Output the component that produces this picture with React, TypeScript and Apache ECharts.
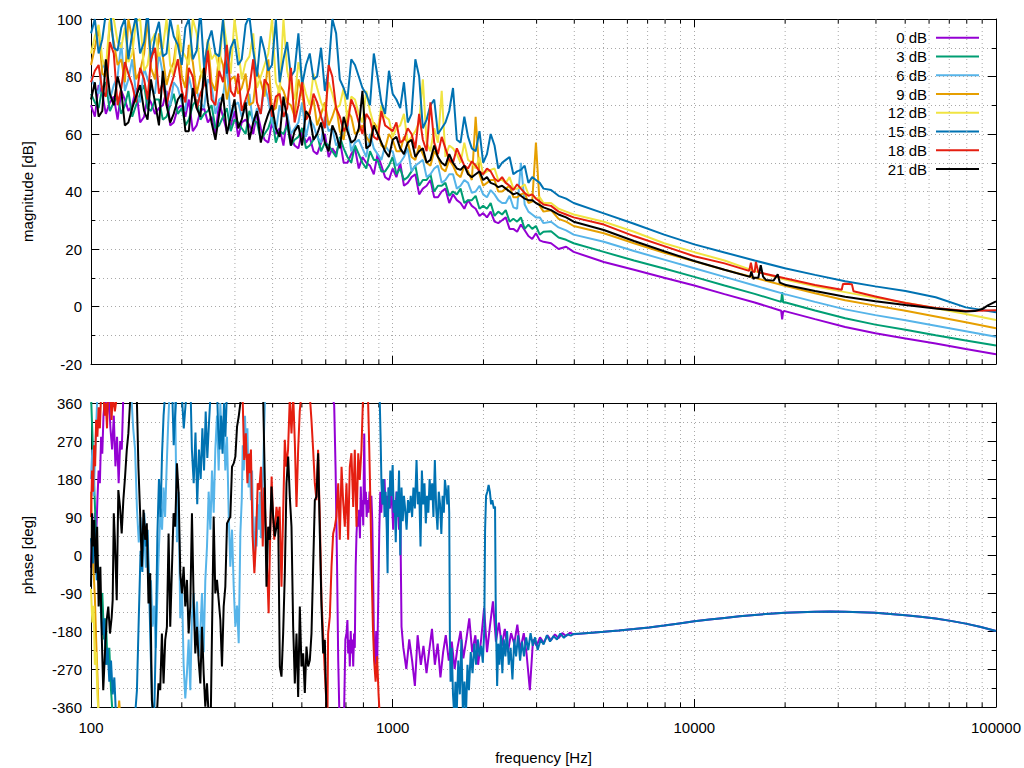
import React, { useEffect, useRef } from "react";
import * as echarts from "echarts";

// ---------- frequency grids (Hz) for the magnitude curves ----------
const FREQ = [100, 106, 112, 119, 126, 133, 141, 150, 158, 168, 178, 188, 200, 211, 224, 237, 251, 266, 282, 299,
  316, 335, 355, 376, 398, 422, 447, 473, 501, 531, 562, 596, 631, 668, 708, 750, 794, 841, 891, 944,
  1000, 1059, 1122, 1189, 1259, 1334, 1413, 1496, 1585, 1679, 1778, 1884, 1995, 2113, 2239, 2371, 2512, 2661, 2818, 2985,
  3162, 3350, 3548, 3758, 3981, 5012, 6310, 7943, 10000, 12589, 15849, 19953, 25119, 31623, 39811, 50119, 63096, 79433, 100000];
const FREQ_MID = [103, 109, 115.5, 122.5, 129.5, 137, 145.5, 154, 163, 173, 183, 194, 205.5, 217.5, 230.5, 244,
  258.5, 274, 290.5, 307.5, 325.5, 345, 365.5, 387, 410, 434.5, 460, 487, 516, 546.5, 579, 613.5, 649.5, 688,
  729, 772, 817.5, 866, 917.5, 972, 1029, 1090, 1155, 1224, 1296, 1373, 1454, 1540, 1632, 1728, 1830, 1940,
  2054, 2176, 2305, 2441, 2586, 2739, 2901, 3073];

// ---------- magnitude [dB] on FREQ ----------
const MAG_0DB = [70, 77, 67, 73, 75, 68, 76, 66, 71, 69, 75, 64, 70, 72, 63, 69, 66, 71, 61, 68,
  64, 63, 68, 58, 64, 62, 66, 56, 61, 59, 53, 60, 55, 58, 50, 55, 52, 49, 53, 45,
  48, 50, 43, 46, 41, 44, 38, 41, 39, 36, 37, 34, 32.5, 33, 29, 31, 27, 28.5, 24.5, 25.5,
  22.5, 22, 20, 20.8, 19, 15.5, 12.8, 10, 7.3, 4.3, 1.4, -1.6, -4.4, -7.1, -9.3, -11.1, -12.9, -14.8, -16.6];
const MAG_3DB = [74, 69, 78, 71, 67, 75, 70, 77, 68, 72, 66, 74, 69, 65, 72, 67, 70, 63, 69, 65,
  62, 68, 64, 60, 66, 61, 63, 58, 62, 56, 60, 57, 54, 59, 52, 56, 50, 54, 51, 47,
  52, 48, 45, 49, 44, 46, 42, 43, 40, 41, 37, 38.5, 35, 36, 33, 33.5, 30.5, 31, 28.5, 28,
  26, 26.2, 24, 23.2, 22, 19, 16, 13.2, 10.3, 7.3, 4.4, 1.5, -1.4, -4.1, -6.3, -8.1, -10, -11.8, -13.6];
const MAG_6DB = [80, 74, 85, 77, 92, 79, 74, 83, 76, 88, 73, 78, 71, 80, 75, 69, 77, 72, 84, 70,
  66, 74, 69, 77, 64, 70, 67, 62, 71, 65, 59, 66, 62, 58, 64, 57, 55, 60, 53, 56,
  54, 50, 55, 49, 51, 46, 49, 44, 46, 42, 43, 40, 39, 40.5, 37, 36, 34.5, 50, 33, 31,
  29, 29.5, 27.5, 26.5, 25, 22.5, 19.3, 16.3, 13.3, 10.3, 7.3, 4.3, 1.6, -1, -3, -4.8, -6.7, -8.6, -10.5];
const MAG_9DB = [84, 97, 80, 92, 86, 100, 79, 88, 83, 95, 77, 85, 80, 91, 74, 83, 78, 88, 72, 80,
  76, 70, 82, 73, 68, 77, 71, 66, 74, 68, 63, 71, 66, 61, 68, 60, 63, 57, 62, 55,
  58, 54, 57, 51, 53, 49, 52, 47, 49, 45, 47, 66, 42, 44, 40, 41, 38, 39, 36, 57,
  33, 33.5, 30.5, 29.5, 28, 25.5, 22, 18.7, 15.7, 12.8, 10, 7.2, 4.6, 2.2, 0.3, -1.5, -3.5, -5.5, -7.6];
const MAG_12DB = [88, 98, 83, 100, 90, 85, 99, 82, 92, 87, 100, 80, 89, 84, 95, 78, 86, 82, 91, 100,
  79, 87, 76, 84, 100, 74, 82, 72, 79, 70, 76, 68, 74, 70, 65, 72, 64, 68, 61, 66,
  59, 63, 57, 61, 79, 54, 57, 52, 55, 50, 51, 48, 46, 47.5, 44, 43, 41, 41.5, 39, 37.5,
  36, 36, 34, 33, 32, 29.5, 26, 22, 18.9, 16, 12.3, 9.4, 7, 5, 3, 1.3, -0.6, -2.6, -4.7];
const MAG_15DB = [95, 88, 102, 90, 97, 86, 101, 92, 85, 99, 88, 94, 84, 100, 89, 83, 96, 87, 81, 93,
  86, 101, 80, 89, 84, 78, 92, 82, 77, 88, 80, 75, 100, 79, 72, 84, 76, 70, 80, 67,
  74, 69, 64, 86, 62, 70, 60, 64, 76, 57, 59, 54, 50, 60, 48, 51, 46, 47.5, 43, 44,
  41, 40.5, 38.5, 37.5, 36, 32.4, 28.8, 25, 21.6, 18.8, 16, 13.3, 11, 8.8, 7, 5.4, 3.2, -0.3, -2];
const MAG_18DB = [78, 84, 73, 88, 76, 81, 71, 79, 86, 74, 70, 80, 75, 83, 69, 77, 72, 82, 91, 73,
  68, 76, 71, 79, 66, 74, 69, 64, 78, 67, 71, 62, 80, 66, 63, 69, 60, 65, 58, 63,
  61, 57, 62, 55, 58, 71, 53, 55, 50, 52, 48, 49, 46, 47, 43.5, 43, 40.5, 41, 38.5, 37.5,
  35.5, 35, 33, 32, 31, 28.5, 24.5, 21, 17.5, 15, 12, 9.8, 7.5, 7.9, 3.5, 1.2, -0.5, -1.6, -1.3];
const MAG_21DB = [72, 66, 86, 70, 75, 64, 73, 68, 79, 63, 70, 67, 74, 61, 69, 83, 64, 67, 60, 72,
  65, 58, 68, 63, 70, 59, 65, 61, 56, 66, 60, 57, 63, 55, 61, 58, 75, 56, 60, 54,
  58, 55, 57, 52, 55, 51, 52, 49, 50, 47.5, 46, 46, 44, 43, 41.5, 41, 39, 38.5, 37, 36,
  34.5, 33.5, 32, 31, 29.5, 26.6, 22.8, 19.2, 15.8, 12.8, 10, 7.6, 5.4, 3.4, 1.8, 0.5, -0.7, -1.7, 1.8];

// ---------- magnitude [dB] on FREQ_MID (the noisy low band) ----------
const MID_0DB = [66, 74, 71, 65, 72, 70, 64, 73, 67, 70, 63, 69, 66, 61, 68, 64, 60, 66, 63, 59,
  65, 60, 62, 57, 60, 56, 59, 55, 57, 54, 57, 52, 53, 50, 53, 48, 50, 46, 49, 44,
  45, 42, 45, 39, 42, 38, 40, 36, 37, 34, 35, 31.5, 31, 29.5, 30, 27, 26, 26.5, 23.5, 23];
const MID_3DB = [71, 76, 68, 73, 70, 66, 74, 69, 72, 65, 70, 67, 63, 70, 65, 68, 62, 66, 61, 64,
  60, 65, 58, 62, 57, 60, 56, 59, 55, 58, 54, 56, 52, 55, 50, 53, 48, 51, 47, 49,
  46, 44, 47, 42, 44, 40, 42, 38.5, 39, 36, 37, 34, 34, 31.5, 32, 29.5, 29.5, 27, 27, 25];
const MID_6DB = [76, 83, 72, 80, 75, 86, 71, 79, 74, 81, 70, 76, 68, 74, 71, 79, 67, 73, 65, 71,
  69, 63, 67, 72, 61, 66, 60, 64, 59, 63, 57, 61, 56, 60, 54, 58, 52, 55, 51, 54,
  49, 52, 47, 50, 45, 48, 43, 46, 41, 44, 39.5, 42, 38, 39, 36, 38.5, 34, 35.5, 32, 31];
const MID_9DB = [90, 81, 99, 84, 78, 93, 82, 100, 79, 87, 82, 96, 76, 85, 80, 92, 75, 84, 79, 74,
  81, 71, 78, 86, 69, 75, 70, 79, 65, 72, 67, 63, 70, 58, 66, 61, 59, 64, 56, 60,
  54, 59, 52, 56, 50, 54, 48, 51, 46, 49, 44, 46, 43, 44, 40, 42, 38, 39.5, 36.5, 35];
const MID_12DB = [94, 86, 100, 92, 97, 88, 100, 84, 95, 90, 84, 98, 87, 100, 82, 93, 88, 100, 81, 90,
  85, 95, 80, 88, 78, 100, 76, 85, 74, 81, 71, 78, 69, 76, 73, 67, 75, 63, 70, 65,
  62, 67, 59, 64, 57, 62, 75, 56, 53, 57, 50, 52, 47, 48, 44, 45, 41, 42.5, 39, 38];
const MID_15DB = [100, 93, 104, 89, 100, 95, 88, 103, 94, 87, 100, 91, 97, 86, 103, 92, 88, 100, 90, 84,
  98, 89, 94, 82, 100, 86, 80, 95, 84, 79, 90, 83, 95, 76, 86, 80, 74, 88, 71, 82,
  72, 78, 67, 80, 65, 72, 62, 68, 58, 66, 55, 61, 53, 56, 50, 52, 47, 49, 45, 43];
const MID_18DB = [82, 75, 92, 70, 85, 77, 83, 72, 90, 78, 76, 86, 71, 80, 74, 89, 70, 78, 75, 81,
  72, 86, 67, 77, 73, 66, 83, 70, 65, 74, 66, 84, 69, 61, 72, 64, 67, 59, 68, 62,
  64, 58, 60, 67, 54, 57, 59, 51, 55, 49, 50.5, 47, 48, 44.5, 45, 42, 42.5, 39.5, 39, 36.5];
const MID_21DB = [78, 68, 74, 80, 63, 69, 77, 65, 71, 82, 64, 72, 61, 76, 66, 71, 58, 74, 66, 62,
  71, 64, 57, 67, 62, 73, 56, 63, 68, 58, 64, 54, 60, 66, 57, 62, 55, 63, 57, 52,
  59, 53, 58, 54, 50, 56, 50, 53, 48, 49, 45, 47, 45, 42.5, 42, 40, 39.5, 37.5, 37, 35.3];

// extra magnitude samples (narrow features) as [Hz, dB]
const MAG_EXTRA_0DB = [[19400, -1.5], [19550, -4.5], [19700, -1.7]];
const MAG_EXTRA_3DB = [[19400, 1.6], [19550, 5], [19700, 1.4]];
const MAG_EXTRA_18DB = [[15200, 12.4], [15400, 15.2], [15600, 12.2], [16000, 15.5], [16300, 11.9],
  [30800, 5.8], [31100, 7.8], [33300, 7.7], [33700, 5.3]];
const MAG_EXTRA_21DB = [[15300, 10.3], [15450, 12.2], [15700, 9.6], [16300, 10], [16600, 14.4], [16900, 10.4],
  [17300, 9.2], [18300, 9.0], [18900, 11.2], [19200, 8.3], [85000, -1.6], [90000, -0.9], [94000, 0.4]];

// ---------- phase [deg] as [Hz, deg] ----------
const PH_TAIL = [[4467, -184.5], [5012, -182], [5623, -179], [6310, -175.5], [7079, -171.5], [7943, -167],
  [8913, -162], [10000, -157], [11220, -153], [12589, -149], [14125, -145], [15849, -142], [17783, -139],
  [19953, -137], [22387, -135.5], [25119, -134.5], [28184, -134], [31623, -134.2], [35481, -135.3],
  [39811, -137], [44668, -139.5], [50119, -142.5], [56234, -146], [63096, -150.5], [70795, -156],
  [79433, -162.5], [89125, -170.5], [100000, -180]];

const PH_0DB = [[100, -30], [101, 60], [102, 20], [103, 100], [104, 40], [105, 130], [106, 200], [107, 170],
  [108, 280], [109, 240], [110, 330], [111.5, 380], [113, 330], [114.5, 380], [116, 300], [117.5, 250],
  [119, 330], [120.5, 210], [122, 280], [123.5, 170], [125, 270], [126.5, 250], [128, 380], [630, 380],
  [640, 355], [647, 200], [654, -20], [660, -250], [666, -380], [690, -380], [697, -200], [703, -186],
  [708, -154], [712, -233], [717, -201], [721, -264], [726, -180], [730, -233], [735, -200], [740, -264],
  [745, -186], [749, -220], [754, -28], [759, 51], [764, 91], [769, 67], [774, 107], [779, 40], [784, 162],
  [789, 91], [794, 130], [799, 70], [805, 288], [810, 120], [815, 150], [820, 90], [826, 130], [832, 100],
  [838, 150], [844, 110], [850, 140], [856, 80], [862, -60], [868, -230], [875, -260], [882, -180],
  [889, -250], [896, -100], [903, 60], [910, 150], [917, 100], [925, 170], [933, 120], [940, 180],
  [948, 100], [956, 140], [964, 90], [972, 160], [980, 110], [988, 170], [996, 120], [1004, 60],
  [1012, 130], [1020, 90], [1030, 150], [1040, 110], [1050, 60], [1060, 100], [1070, -170],
  [1085, -220], [1110, -270], [1135, -200], [1160, -250], [1185, -310], [1210, -190], [1240, -260],
  [1265, -215], [1295, -280], [1320, -230], [1350, -175], [1380, -260], [1410, -210], [1440, -290],
  [1470, -230], [1500, -190], [1535, -250], [1570, -205], [1605, -270], [1640, -220], [1680, -180],
  [1715, -245], [1755, -200], [1795, -150], [1835, -230], [1880, -190], [1920, -260], [1965, -200],
  [2010, -125], [2055, -230], [2100, -170], [2150, -110], [2200, -205], [2250, -160], [2300, -215],
  [2355, -175], [2410, -230], [2470, -185], [2530, -210], [2590, -165], [2650, -225], [2720, -185],
  [2780, -235], [2850, -320], [2920, -200], [3000, -215], [3080, -195], [3170, -208], [3260, -190],
  [3350, -202], [3450, -188], [3550, -197], [3650, -185], [3760, -192], [3870, -184], [3981, -188]];

const PH_3DB = [[100, 380], [101.5, 250], [103, 120], [104.5, 0], [106, -60], [107.5, -120], [109, -90],
  [110.5, -200], [112, -150], [113.5, -260], [115, -220], [116.5, -320], [118, -380]];

const PH_6DB = [[100, 180], [101, 250], [102, 140], [103, 220], [104, 300], [105, 380], [136, 380], [138, 300],
  [140, 250], [142, 110], [144, 30], [146, 90], [148, 10], [150, 60], [152, -30], [154, 20], [156, -100],
  [158, -60], [160, -170], [162, -120], [164, -220], [166, -90], [168, 20], [170, 110], [172, 60], [174, 160],
  [176, 90], [178, 200], [180, 300], [182, 380], [190, 380], [192.7, 30], [195, 150], [197.7, -150],
  [200, -60], [202.8, -260], [205.4, -340], [208, -280], [210.7, -200], [213.4, -320], [216, -150],
  [219, -90], [222, -200], [224.6, -110], [227.4, -240], [230.4, -180], [233.3, -90], [236.3, -230],
  [239.3, -60], [242.4, 20], [245.5, 150], [248.7, 60], [251.8, 200], [255.1, 100], [258.3, 250],
  [261.6, 330], [265, 200], [268.4, 360], [271.8, 250], [275.3, 320], [278.8, 200], [282.4, 280],
  [286, 100], [289.7, -28], [293.4, 60], [297.2, -75], [301, -170], [304.9, -120], [308.8, -209],
  [312.7, 51], [316, 130], [318.5, 260], [321, 200], [324, 330], [327, 230], [330, 300], [333, 160],
  [336, 241], [339, 130], [342, 200], [345, 51], [348, -28], [351, 91], [354, 20], [357, 120], [360, 60],
  [363, 150], [366, 40], [369, 110], [372, 200], [375, 300], [378, 380]];

const PH_9DB = [[100, 150], [101, 30], [102, -40], [103, -100], [104, -200], [105, -280], [106, -380],
  [123, -380], [124, -345], [125, -380]];

const PH_12DB = [[100, -80], [101, -160], [102, -120], [103, -260], [104, -230], [105, -330], [106, -380]];

const PH_15DB = [[100, 40], [101.5, -20], [103, 60], [104.5, -60], [106, -30], [107.5, -110], [109, -190],
  [110.5, -150], [112, -260], [113.5, -220], [115, -300], [116.5, -250], [118, -330], [119.5, -290],
  [121, -380], [140, -380], [142, -320], [144, -150], [146, 10], [148, -40], [150, 100], [152, 20],
  [154, 60], [156, -90], [158, -250], [160, -380], [162, -380], [164, -200], [166, 50], [168, 180],
  [170, 90], [172, 240], [174, 330], [176, 380], [186, 380], [188, 260], [190, 330], [192, 380],
  [200, 380], [203, 300], [206, 360], [209, 380], [214, 380], [216, 250], [219, 170], [222, 290],
  [225, 120], [228, 250], [231, 180], [234, 300], [237, 200], [240, 340], [243, 230], [246, 310],
  [249, 380], [262, 380], [264, 300], [267, 250], [270, 330], [273, 240], [276, 360], [279, 280],
  [282, 380], [905, 380], [912, 280], [918, 170], [925, 120], [932, 180], [940, 90], [948, 150],
  [956, 60], [962, -43], [968, 160], [975, 110], [982, 200], [990, 140], [1000, 213], [1008, 100],
  [1016, 130], [1024, 30], [1032, 150], [1040, 90], [1050, 200], [1060, 0], [1070, 160], [1080, 80],
  [1090, 140], [1100, 110], [1112, 60], [1124, 130], [1136, 100], [1148, 140], [1160, 90], [1172, 160],
  [1185, 110], [1200, 225], [1212, 120], [1225, 150], [1237, 20], [1250, 200], [1262, 120], [1275, 170],
  [1288, 75], [1300, 140], [1313, 100], [1326, 180], [1339, 130], [1352, 170], [1365, 90], [1380, 225],
  [1394, 110], [1408, 60], [1422, 150], [1436, 120], [1450, 50], [1464, 140], [1478, 100], [1490, 178],
  [1505, 150], [1518, 120], [1530, 165], [1540, 100], [1548, -200], [1556, -300], [1570, -220],
  [1585, -330], [1600, -380], [1615, -300], [1630, -380], [1650, -250], [1670, -330], [1690, -200],
  [1710, -380], [1730, -300], [1750, -380], [1770, -260], [1790, -320], [1815, -230], [1840, -280],
  [1865, -210], [1890, -260], [1915, -200], [1940, -240], [1965, -215], [1990, -255], [2012, -180],
  [2025, 60], [2040, 140], [2060, 150], [2080, 166], [2100, 150], [2120, 120], [2140, 130], [2165, 110],
  [2185, 115], [2195, -100], [2205, -200], [2220, -310], [2240, -210], [2260, -260], [2285, -190],
  [2310, -280], [2335, -200], [2365, -240], [2395, -180], [2425, -260], [2460, -220], [2495, -295],
  [2530, -200], [2565, -240], [2605, -190], [2645, -250], [2685, -205], [2725, -240], [2770, -195],
  [2815, -225], [2865, -185], [2915, -215], [2965, -195], [3025, -225], [3095, -200], [3165, -212],
  [3245, -190], [3325, -205], [3415, -192], [3505, -200], [3595, -186], [3695, -196], [3795, -188],
  [3895, -191], [3981, -187]];

const PH_18DB = [[100, 90], [100.8, 200], [101.6, 150], [102.4, 260], [103.2, 210], [104, 320], [105, 280],
  [106, 350], [107, 300], [108, 380], [110, 380], [111, 330], [112, 360], [113, 300], [114, 380],
  [116, 380], [117, 320], [118, 380], [120, 340], [122, 380], [318, 380], [322, 225], [326, 288],
  [330, 170], [333, 240], [335, 194], [339, 250], [343, 51], [348, -43], [352, 28], [357, 170], [361, 154],
  [366, 209], [371, 20], [375, 160], [380, 60], [388, -138], [392, 20], [397, 186], [400, 114], [405, 36],
  [412, 114], [417, 83], [422, 114], [428, -75], [433, 83], [439, 273], [444, 209], [450, 249], [456, 370],
  [462, 288], [468, 380], [474, 265], [480, 114], [486, 249], [492, 340], [498, 380], [531, 380],
  [538, 320], [545, 249], [552, 170], [559, 130], [566, 249], [574, 75], [581, -107], [588, -186],
  [596, -280], [604, -359], [608, -380], [611, -186], [619, -146], [627, -28], [635, 51], [643, 67],
  [651, 91], [660, 170], [668, 36], [677, 209], [685, 130], [694, 67], [703, 170], [712, 36], [721, 209],
  [730, 241], [740, 114], [749, 249], [759, 67], [769, 241], [778, 178], [788, 249], [798, 380],
  [828, 380], [836, 260], [844, 120], [852, -40], [860, -170], [868, -250], [878, -300], [888, -240],
  [898, -330], [906, -380]];

const PH_21DB = [[100, -75], [100.8, 99], [101.5, 20], [102.5, 83], [103.6, -43], [104.8, 67], [106, -122],
  [107.4, -28], [108.5, -186], [109.8, -320], [111.2, -233], [112.7, -154], [114.1, -122], [115.6, -186],
  [117.1, -147], [118, -107], [119, 99], [120, 36], [121.7, -107], [123.2, 154], [124.8, 114], [126.4, 51],
  [128, 130], [129.7, 186], [131.4, 249], [133, 288], [134.7, 360], [136, 380], [141.8, 380], [143.6, 209],
  [145.5, 99], [147.4, -28], [149.3, 107], [151.2, 36], [153.1, 75], [155.1, -115], [157.1, -43],
  [159.1, -343], [161.1, -380], [165.3, -380], [167.4, -304], [169.6, -320], [171.8, -186], [174, -304],
  [176.2, -201], [178.5, -170], [180.8, 51], [183.1, -170], [187.8, 99], [190.2, 67], [192.7, 217],
  [195.2, 146], [197.7, -43], [200.2, -91], [202.8, -28], [205.4, -122], [208, -59], [210.7, -186],
  [213.4, -122], [216.1, 99], [218.9, -107], [221.7, -233], [224.6, -170], [227.4, -249], [230.4, -304],
  [233.3, -170], [236.3, -280], [239.3, -359], [242.4, -304], [245.5, -380], [249.5, -380], [251.8, -186],
  [255.1, 91], [258.3, -91], [261.6, -59], [265, -107], [268.4, -154], [271.8, -264], [275.3, -122],
  [278.8, -75], [282.4, 75], [286, 83], [289.7, 91], [293.4, 209], [297.2, 217], [301, 233], [304.9, 304],
  [308.8, 328], [312.7, 360], [315, 380], [372, 380], [377, 170], [379.9, 12], [381.7, -75], [386.6, 67],
  [391.6, 36], [396.6, 162], [401.6, 91], [406.8, 44], [412, 67], [417.3, 91], [422.6, -264], [428, -288],
  [433.5, -186], [439.1, -43], [444.7, 170], [450.4, 233], [456.1, 138], [462, 67], [467.9, -170],
  [473.9, -304], [480, -186], [486.1, -336], [492.3, -122], [498.6, -264], [505, -233], [511.5, -327],
  [518, -217], [524.7, -264], [531.4, -249], [538.2, -186], [545.1, -28], [552.1, 130], [559.1, 138],
  [566.3, 241], [573.5, 51], [580.9, -122], [588.3, -233], [595.9, -201], [603.5, -380]];

// ---------- labels, colours, ticks ----------
const LABELS = ["0 dB", "3 dB", "6 dB", "9 dB", "12 dB", "15 dB", "18 dB", "21 dB"];
const COLORS = ["#9400d3", "#009e73", "#56b4e9", "#e69f00", "#f0e442", "#0072b2", "#e51e10", "#000000"];
const X_MINOR_TICKS = [200, 300, 400, 500, 600, 700, 800, 900, 2000, 3000, 4000, 5000, 6000, 7000, 8000, 9000,
  20000, 30000, 40000, 50000, 60000, 70000, 80000, 90000];
const MAG_RANGE = [-20, 100];
const PHASE_RANGE = [-360, 360];

const MAG_VALUES = [MAG_0DB, MAG_3DB, MAG_6DB, MAG_9DB, MAG_12DB, MAG_15DB, MAG_18DB, MAG_21DB];
const MID_VALUES = [MID_0DB, MID_3DB, MID_6DB, MID_9DB, MID_12DB, MID_15DB, MID_18DB, MID_21DB];
const MAG_EXTRAS = [MAG_EXTRA_0DB, MAG_EXTRA_3DB, [], [], [], [], MAG_EXTRA_18DB, MAG_EXTRA_21DB];
const PHASE_VALUES = [
  PH_0DB.concat(PH_TAIL), PH_3DB, PH_6DB, PH_9DB, PH_12DB, PH_15DB.concat(PH_TAIL), PH_18DB, PH_21DB,
];

const FONT = "'Liberation Sans', Arial, Helvetica, sans-serif";
const GRID_COLOR = "#a8a8a8";
const GRID_LINE = { color: GRID_COLOR, width: 1, type: [1, 3] as any };

function magData(values: number[], mid: number[], extra: number[][]) {
  const pts = FREQ.map((f, i) => [f, values[i]]);
  const midPts = FREQ_MID.map((f, i) => [f, mid[i]]);
  return pts.concat(midPts, extra).sort((a, b) => a[0] - b[0]);
}

function makeXAxes(gridIndex: number, labels: boolean) {
  const common = {
    gridIndex,
    type: "log",
    logBase: 10,
    min: 100,
    max: 100000,
    axisLine: { show: true, onZero: false, lineStyle: { color: "#000", width: 1 } },
    axisTick: { show: true, inside: true, length: 8, lineStyle: { color: "#000" } },
    minorTick: { show: false },
  };
  return [
    {
      ...common,
      position: "bottom",
      axisLabel: {
        show: labels,
        margin: 13,
        color: "#000",
        fontSize: 15,
        fontFamily: FONT,
        showMinLabel: true,
        showMaxLabel: true,
        formatter: (v: number) => String(Math.round(v)),
      },
      splitLine: { show: true, lineStyle: GRID_LINE },
    },
    {
      ...common,
      position: "top",
      axisLabel: { show: false },
      splitLine: { show: false },
    },
  ];
}

function makeYAxes(gridIndex: number, min: number, max: number, interval: number) {
  const common = {
    gridIndex,
    type: "value",
    min,
    max,
    interval,
    axisLine: { show: true, onZero: false, lineStyle: { color: "#000", width: 1 } },
    axisTick: { show: true, inside: true, length: 8, lineStyle: { color: "#000" } },
    minorTick: { show: true, splitNumber: 2, length: 4, lineStyle: { color: "#000" } },
  };
  return [
    {
      ...common,
      position: "left",
      axisLabel: {
        show: true,
        margin: 9,
        color: "#000",
        fontSize: 15,
        fontFamily: FONT,
        showMinLabel: true,
        showMaxLabel: true,
      },
      splitLine: { show: true, lineStyle: GRID_LINE },
      minorSplitLine: { show: true, lineStyle: GRID_LINE },
    },
    {
      ...common,
      position: "right",
      axisLabel: { show: false },
      splitLine: { show: false },
      minorSplitLine: { show: false },
    },
  ];
}

function minorGridSeries(xAxisIndex: number, yAxisIndex: number, range: number[]) {
  return {
    type: "custom",
    xAxisIndex,
    yAxisIndex,
    silent: true,
    z: 1,
    data: X_MINOR_TICKS.map((f) => [f, range[0]]),
    renderItem: (_params: any, api: any) => {
      const f = api.value(0);
      const p0 = api.coord([f, range[0]]);
      const p1 = api.coord([f, range[1]]);
      return {
        type: "group",
        children: [
          {
            type: "line",
            shape: { x1: p0[0], y1: p0[1], x2: p1[0], y2: p1[1] },
            style: { stroke: GRID_COLOR, lineWidth: 1, lineDash: [1, 3] },
          },
          {
            type: "line",
            shape: { x1: p0[0], y1: p0[1], x2: p0[0], y2: p0[1] - 4.5 },
            style: { stroke: "#000", lineWidth: 1 },
          },
          {
            type: "line",
            shape: { x1: p1[0], y1: p1[1], x2: p1[0], y2: p1[1] + 4.5 },
            style: { stroke: "#000", lineWidth: 1 },
          },
        ],
      };
    },
  };
}

function textEl(text: string, x: number, y: number, align: string, rotation = 0) {
  return {
    type: "text",
    x,
    y,
    rotation,
    silent: true,
    style: {
      text,
      fill: "#000",
      font: `15px ${FONT}`,
      fontSize: 15,
      fontFamily: FONT,
      align,
      textAlign: align,
      verticalAlign: "middle",
      textVerticalAlign: "middle",
    },
  };
}

function buildOption() {
  const magSeries = LABELS.map((name, i) => ({
    name,
    type: "line",
    xAxisIndex: 0,
    yAxisIndex: 0,
    data: magData(MAG_VALUES[i], MID_VALUES[i], MAG_EXTRAS[i]),
    showSymbol: false,
    symbol: "none",
    clip: true,
    silent: true,
    z: 2,
    lineStyle: { color: COLORS[i], width: 2 },
    itemStyle: { color: COLORS[i] },
  }));
  const phaseSeries = LABELS.map((name, i) => ({
    name,
    type: "line",
    xAxisIndex: 2,
    yAxisIndex: 2,
    data: PHASE_VALUES[i],
    showSymbol: false,
    symbol: "none",
    clip: true,
    silent: true,
    z: 2,
    lineStyle: { color: COLORS[i], width: 2 },
    itemStyle: { color: COLORS[i] },
  }));

  const legendRowY = [37.7, 56.5, 75.2, 94, 112.7, 131.5, 150.2, 169];
  const legend: any[] = [];
  LABELS.forEach((name, i) => {
    legend.push(textEl(name, 927, legendRowY[i], "right"));
    legend.push({
      type: "line",
      silent: true,
      shape: { x1: 936, y1: legendRowY[i], x2: 979, y2: legendRowY[i] },
      style: { stroke: COLORS[i], lineWidth: 2 },
    });
  });

  return {
    animation: false,
    backgroundColor: "#ffffff",
    textStyle: { fontFamily: FONT },
    grid: [
      { left: 91, top: 19, width: 905, height: 345 },
      { left: 91, top: 403, width: 905, height: 304 },
    ],
    xAxis: [...makeXAxes(0, false), ...makeXAxes(1, true)],
    yAxis: [...makeYAxes(0, MAG_RANGE[0], MAG_RANGE[1], 20), ...makeYAxes(1, PHASE_RANGE[0], PHASE_RANGE[1], 90)],
    series: [
      minorGridSeries(0, 0, MAG_RANGE),
      minorGridSeries(2, 2, PHASE_RANGE),
      ...magSeries,
      ...phaseSeries,
    ],
    graphic: [
      ...legend,
      textEl("magnitude [dB]", 27, 191.5, "center", Math.PI / 2),
      textEl("phase [deg]", 27, 555, "center", Math.PI / 2),
      textEl("frequency [Hz]", 543.5, 757, "center"),
    ],
  };
}

export default function App() {
  const ref = useRef<HTMLDivElement>(null);
  useEffect(() => {
    if (!ref.current) return;
    const chart = echarts.init(ref.current, null, { renderer: "svg", width: 1024, height: 768 });
    chart.setOption(buildOption() as any);
    return () => chart.dispose();
  }, []);
  return (
    <div
      ref={ref}
      style={{ position: "fixed", left: 0, top: 0, width: 1024, height: 768, background: "#ffffff" }}
    />
  );
}
